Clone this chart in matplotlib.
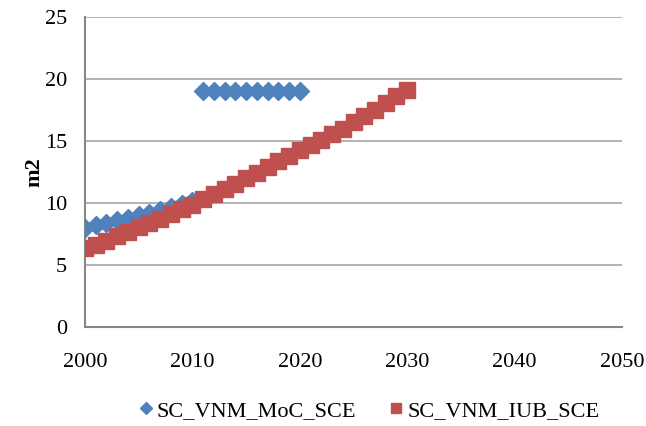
import matplotlib.pyplot as plt

plt.rcParams['font.family'] = ['Liberation Serif', 'DejaVu Serif']

# blue series: early rise, then flat block
moc_years_a = list(range(2000, 2011))
moc_vals_a = [8.0, 8.2, 8.4, 8.6, 8.8, 9.0, 9.2, 9.4, 9.65, 9.9, 10.15]
moc_years_b = list(range(2011, 2021))
moc_vals_b = [19.05] * 10

iub_years = list(range(2000, 2031))
iub_vals = [6.35, 6.6, 6.95, 7.3, 7.65, 8.05, 8.4, 8.75, 9.15, 9.5, 9.85,
            10.3, 10.7, 11.15, 11.55, 12.0, 12.45, 12.9, 13.35, 13.8, 14.25,
            14.65, 15.1, 15.55, 16.0, 16.5, 17.0, 17.5, 18.05, 18.6, 19.1]

moc_years = moc_years_a + moc_years_b
moc_vals = moc_vals_a + moc_vals_b

fig = plt.figure(figsize=(6.46, 4.26), dpi=100)
ax = fig.add_axes([85 / 646, 1 - 327 / 426, (622 - 85) / 646, (327 - 17) / 426])

ax.plot(moc_years, moc_vals, linestyle='none', marker='D', markersize=9,
        color='#4F81BD', label='SC_VNM_MoC_SCE', zorder=3)
ax.plot(iub_years, iub_vals, linestyle='none', marker='s', markersize=11,
        color='#C0504D', label='SC_VNM_IUB_SCE', zorder=3)

ax.set_xlim(2000, 2050)
ax.set_ylim(0, 25)
ax.set_xticks(range(2000, 2051, 10))
ax.set_yticks(range(0, 26, 5))
ax.yaxis.grid(True, color='#A6A6A6', linewidth=1.2)
ax.set_axisbelow(True)
for s in ['top', 'right']:
    ax.spines[s].set_visible(False)
for s in ['left', 'bottom']:
    ax.spines[s].set_color('#868686')
    ax.spines[s].set_linewidth(1.5)
ax.tick_params(length=0, labelsize=16)
ax.tick_params(axis='y', pad=13)
ax.tick_params(axis='x', pad=19)
ax.set_ylabel('m2', fontsize=16, fontweight='bold', labelpad=0)

fig.legend(loc='lower center', bbox_to_anchor=(0.568, -0.035), ncol=2, frameon=False,
           fontsize=16, handletextpad=0.0, columnspacing=1.3, markerscale=0.65,
           handlelength=1.0)

fig.savefig('out.png', dpi=100)
